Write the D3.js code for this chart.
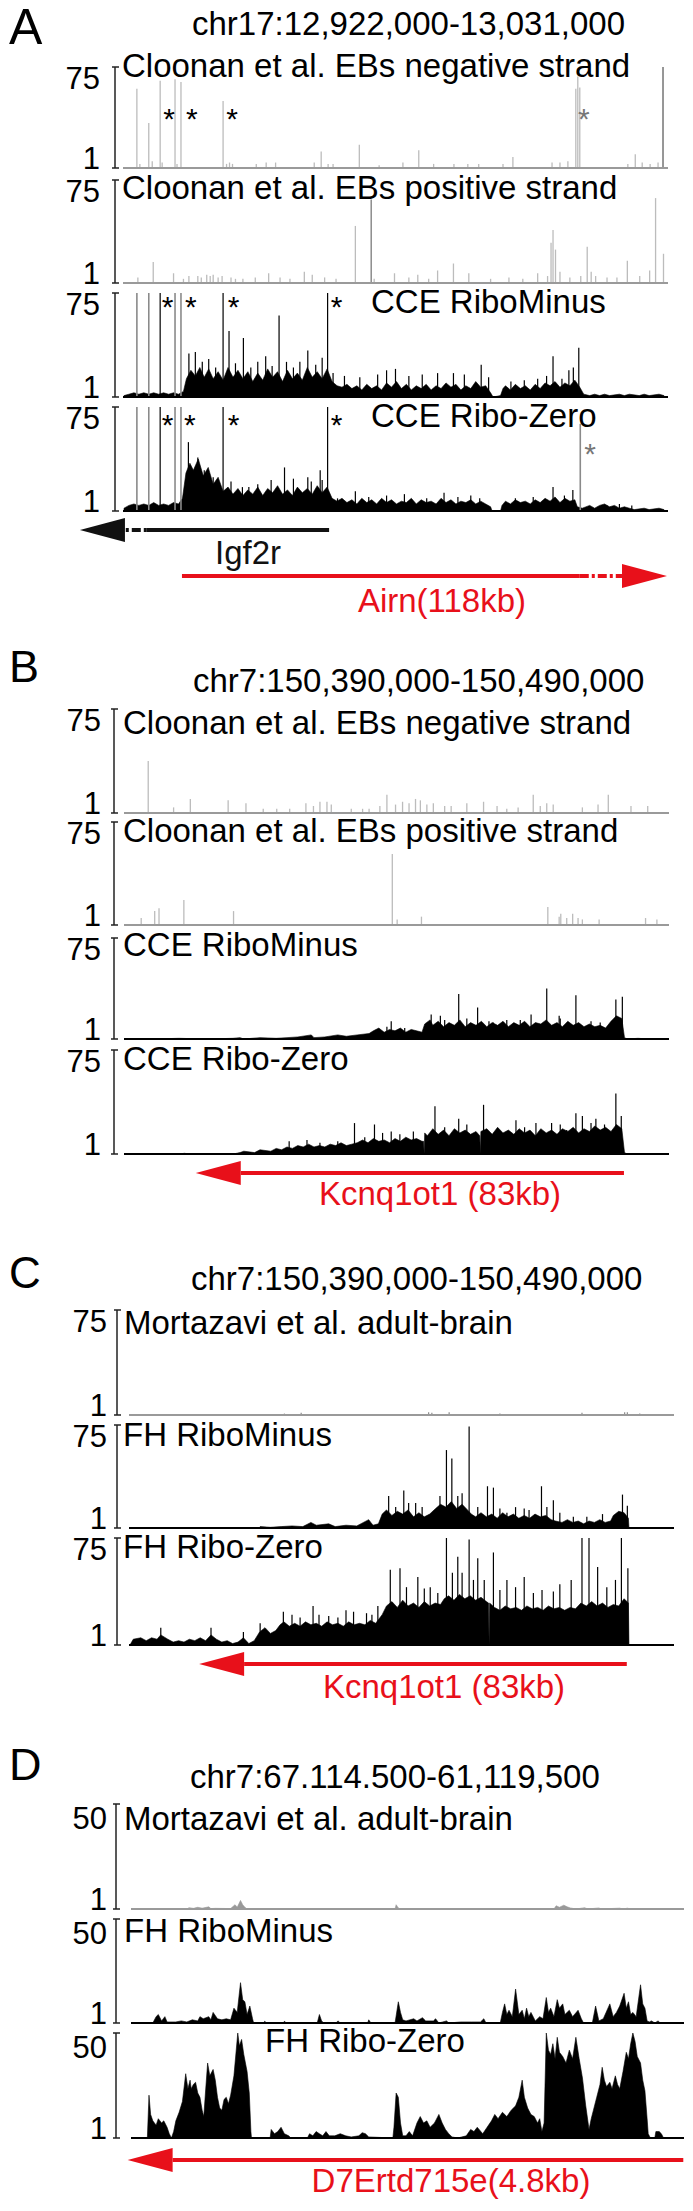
<!doctype html>
<html>
<head>
<meta charset="utf-8">
<title>Coverage tracks</title>
<script src="https://cdn.jsdelivr.net/npm/d3@7"></script>
<style>
body { margin: 0; background: #fff; }
text { font-family: "Liberation Sans", Arial, Helvetica, sans-serif; }
</style>
</head>
<body>
<svg width="693" height="2211"></svg>
<script>
// ---- data: positions in kb from window start, values are read coverage (1..max)
var panelLetters = ["A", "B", "C", "D"]
var panelTitles = ["chr17:12,922,000-13,031,000", "chr7:150,390,000-150,490,000",
                   "chr7:150,390,000-150,490,000", "chr7:67.114.500-61,119,500"]
var windowKb = [109, 100, 100, 5]
var maxTicks = [75, 75, 75, 50]

var labelsA = ["Cloonan et al. EBs negative strand", "Cloonan et al. EBs positive strand", "CCE RiboMinus", "CCE Ribo-Zero"]
var labelsB = ["Cloonan et al. EBs negative strand", "Cloonan et al. EBs positive strand", "CCE RiboMinus", "CCE Ribo-Zero"]
var labelsC = ["Mortazavi et al. adult-brain", "FH RiboMinus", "FH Ribo-Zero"]
var labelsD = ["Mortazavi et al. adult-brain", "FH RiboMinus", "FH Ribo-Zero"]

var a1Lines = [[2.6,59],[3.2,4],[5.0,34],[5.7,6],[7.3,65],[7.7,5],[10.3,66],[10.7,4],[11.5,64],[20.0,50],[20.7,4],
    [21.3,5],[21.9,4],[26.7,4],[28.7,5],[30.6,5],[38.4,5],[39.8,13],[41.2,4],[42.2,4],[47.5,18],[51.5,3],[56.3,5],
    [59.5,14],[62.5,4],[66.6,4],[69.4,4],[71.6,4],[76.5,4],[78.5,9],[86.4,5],[88.0,5],[89.6,6],[91.2,59],[91.6,68],
    [92.0,60],[101.7,4],[103.2,11],[104.6,5],[106.2,4],[107.8,5]]
var a1DarkLines = [[108.8,75]]
var a1Stars = [9.1, 13.7, 21.8]
var a1GrayStars = [92.8]

var a2Lines = [[2.8,5],[5.9,16],[10.0,8],[12.0,4],[13.1,6],[14.9,6],[15.6,5],[16.7,7],[17.4,6],[18.0,7],[19.0,5],
    [19.8,6],[21.6,5],[22.5,4],[24.0,4],[26.5,5],[29.2,8],[31.5,5],[33.5,4],[36.4,9],[38.0,7],[40.5,5],[42.8,4],
    [46.7,42],[50.5,4],[54.6,8],[57.5,5],[59.3,7],[61.5,4],[63.3,10],[66.5,15],[69.6,8],[74.0,4],[77.7,5],[80.5,4],
    [83.5,8],[85.5,6],[86.2,30],[86.6,39],[87.1,25],[88.0,9],[90.0,5],[92.2,6],[93.5,27],[94.3,9],[95.2,6],
    [97.5,5],[99.5,5],[101.6,17],[104.1,6],[106.1,10],[107.3,62],[108.9,22]]
var a2DarkLines = [[49.9,61]]

var a3Area = [[0,2],[1,3],[2,4],[3,3],[4,4],[5,3],[6,4],[7,3],[8,4],[9,3],[10,4],[11,3],[12,5],[12.6,14],[13.5,20],
    [14.4,16],[15.3,22],[16.2,15],[17.1,21],[18,14],[19,19],[20,13],[21,22],[22,15],[23,20],[24,14],[25,19],[26,12],
    [27,18],[28,13],[29,21],[30,15],[31,19],[32,12],[33,20],[34,14],[35,18],[36,13],[37,22],[38,15],[39,19],[40,14],
    [41,21],[42,12],[43,9],[44,8],[45,10],[46,7],[47,9],[48,6],[49,10],[50,7],[51,9],[52,6],[53,11],[54,8],[55,12],
    [56,7],[57,10],[58,6],[59,9],[60,7],[61,10],[62,6],[63,9],[64,7],[65,11],[66,8],[67,10],[68,6],[69,9],[70,7],
    [71,12],[72,8],[73,9],[74,4],[74.5,1],[76,2],[76.5,7],[77,9],[78,6],[79,10],[80,7],[81,9],[82,6],[83,10],[84,7],
    [85,11],[86,9],[87,12],[88,8],[89,11],[90,9],[91,13],[92,8],[92.8,3],[94,2],[95,3],[96,2],[97,3],[98,2],[100,3],
    [101,2],[102,3],[104,2],[105,3],[106,2],[108,3],[109,2]]
var a3Spikes = [[7.3,75],[20.0,75],[41.1,75],[13.1,32],[14.4,33],[15.8,26],[17.1,28],[18.5,22],[21.2,48],[22.5,25],
    [24.1,43],[25.6,22],[27.0,26],[28.6,30],[29.9,23],[31.3,59],[32.8,26],[34.2,22],[35.5,26],[37.1,34],[38.7,24],
    [40.0,29],[42.2,18],[44.5,16],[47.6,15],[51.2,17],[53.0,20],[54.8,21],[57.5,16],[60.2,17],[63.3,18],[66.5,18],
    [68.7,17],[72.1,24],[73.6,15],[78.1,12],[80.8,13],[83.5,14],[85.3,16],[86.6,30],[88.4,14],[89.8,20],[90.7,22],
    [91.8,36]]
var a3GraySpikes = [[2.6,75],[5.0,75],[10.3,75],[11.5,75]]
var a3Stars = [8.8, 13.5, 22.1, 42.9]

var a4Area = [[0,3],[1,5],[2,6],[3,5],[4,6],[5,5],[6,7],[7,5],[8,6],[9,5],[10,7],[11,6],[11.8,10],[12.5,28],[13.3,35],
    [14,30],[15,38],[16,26],[17,32],[18,20],[19,25],[20,15],[21,18],[22,13],[23,17],[24,12],[25,16],[26,13],[27,18],
    [28,12],[29,17],[30,14],[31,19],[32,13],[33,16],[34,12],[35,18],[36,14],[37,17],[38,13],[39,19],[40,14],[41,18],
    [42,10],[43,8],[44,10],[45,7],[46,9],[47,6],[48,10],[49,7],[50,9],[51,6],[52,10],[53,7],[54,9],[55,6],[56,8],
    [57,7],[58,10],[59,6],[60,9],[61,7],[62,8],[63,6],[64,10],[65,7],[66,9],[67,6],[68,8],[69,7],[70,9],[71,6],[72,8],
    [73,6],[74,4],[74.3,1],[76,1],[76.3,5],[77,8],[78,6],[79,9],[80,7],[81,8],[82,6],[83,9],[84,7],[85,10],[86,8],
    [87,11],[88,7],[89,10],[90,8],[91,9],[91.5,4],[92.5,3],[94,5],[95,3],[96,5],[97,6],[98,4],[99,5],[100,3],[101,4],
    [102,3],[103,2],[105,3],[106,2],[108,3],[109,2]]
var a4Spikes = [[7.3,75],[20.0,75],[41.1,75],[13.0,50],[14.9,39],[16.2,30],[18.0,25],[21.6,22],[23.9,18],[25.2,18],
    [27.0,20],[29.7,23],[32.4,32],[34.2,24],[37.1,25],[37.8,22],[39.6,30],[40.0,23],[43.1,10],[46.7,15],[49.4,11],
    [53.0,12],[56.6,13],[61.1,10],[64.6,14],[67.4,11],[70,12],[71.8,10],[79,10],[82.6,11],[86.6,18],[88.9,12],
    [90.6,16],[97.5,5],[100,6],[102.5,5]]
var a4GraySpikes = [[2.6,75],[5.0,75],[10.3,75],[11.5,75],[92.1,63]]
var a4Stars = [8.8, 13.3, 22.1, 42.9]
var a4GrayStars = [94.1]

var b1Lines = [[4.3,38],[9.0,5],[12.1,11],[19.1,10],[22.4,8],[25.6,4],[28.1,4],[30.5,4],[33.5,8],[34.9,6],[36.1,9],
    [37.4,9],[38.2,7],[41.9,4],[44,4],[45.2,4],[47.2,6],[48.5,14],[50.1,7],[51.4,9],[52.6,8],[53.8,11],[54.7,10],
    [55.9,7],[57.1,8],[59.2,6],[60.4,6],[63.3,8],[66.4,9],[68.9,6],[70.7,4],[72.8,5],[75.6,14],[76.9,6],[78.1,8],
    [79.3,7],[84.7,5],[87.6,7],[89.5,14],[93.7,6],[96.8,6]]
var b2Lines = [[3.0,6],[5.5,11],[6.3,13],[10.9,19],[20.1,11],[49.5,52],[50.4,5],[54.9,7],[78.3,14],[80.4,7],[80.7,9],
    [81.8,6],[82.9,9],[83.9,6],[84.7,5],[87.8,5],[96.4,6],[98.5,5]]

var b3Area = [[0,1],[5,1],[10,1.5],[15,1],[20,1.5],[21.3,2],[22,1],[25,2],[28,1.5],[30,2],[32,2.5],[34.5,4],[35,2],
    [37,2.5],[39.4,4],[41,3],[43,4],[45.2,5],[46,7],[47,9],[48,6],[49,8],[50,7],[51,9],[52,6],[53,8],[54,7],[55,6],
    [55.5,12],[56.5,15],[57,11],[58,14],[59,10],[60,13],[61,11],[62,15],[63,10],[64,13],[65,11],[66,14],[67,10],
    [68,13],[69,11],[70,14],[71,10],[72,13],[73,11],[74,14],[75,10],[76,13],[77,12],[78,15],[79,11],[80,13],[81,10],
    [82,14],[83,11],[84,13],[85,10],[86,12],[87,10],[88,11],[89,9],[90,14],[91,18],[92,16],[92.5,2],[93,1],[95,1.5],
    [97,1],[100,1]]
var b3Spikes = [[48.5,10],[49.3,14],[51.8,9],[56.7,19],[58.4,18],[59.2,15],[61.8,34],[63.3,16],[65.3,24],[67.4,14],
    [68.2,13],[70.7,15],[73.2,15],[75.2,19],[78.1,38],[80.4,18],[80.6,16],[83.5,33],[86.3,14],[88,13],[90.9,30],
    [92.1,32]]

var b4Area = [[0,1],[10,1],[11,1.5],[12,1],[20,1],[21.3,2],[22,3],[24,2],[25,4],[27,3],[28,5],[29,4],[30,6],[31,5],
    [32,7],[33,6],[34,8],[35,6],[36,7],[37,6],[38,8],[39,7],[40,9],[41,7],[42,8],[43,9],[44,11],[45,9],[46,12],[47,10],
    [48,11],[49,9],[50,12],[51,10],[52,13],[53,11],[54,12],[55,10],[55.3,10],[55.4,1],[55.5,16],[56,14],[57,19],
    [58,15],[59,18],[60,14],[61,19],[62,16],[63,18],[64,15],[65,17],[65.7,14],[65.8,1],[65.9,17],[67,19],[68,15],
    [69,20],[70,16],[71,18],[72,15],[73,19],[74,16],[75,18],[76,14],[77,19],[78,16],[79,18],[80,15],[81,19],[82,17],
    [83,20],[84,16],[85,19],[86,17],[87,21],[88,18],[89,20],[90,17],[91,22],[92,19],[92.5,2],[93,1],[100,1]]
var b4Spikes = [[30.4,10],[33.7,11],[36.1,9],[39.4,10],[42.5,23],[44.4,13],[46.2,22],[47.7,16],[49.3,17],[50.9,15],
    [53.4,17],[57.4,35],[59.2,20],[61.8,26],[63.3,22],[66.4,36],[69.1,19],[72.4,25],[74,20],[76.1,23],[79,23],
    [80.6,22],[81.8,18],[83.5,30],[84.7,28],[86.3,23],[87.2,26],[88.8,22],[90.9,44],[91.9,28]]

var c1Lines = [[28.6,2],[31.7,2.5],[55.3,3],[55.9,2.5],[59.1,3],[68.5,2],[83.7,2.5],[91.6,3],[92.1,3],[94.4,2]]

var c2Area = [[0,1],[4,1.3],[5,1],[10,1.3],[11,1],[24,1],[24.1,2],[26,1.5],[28,2],[30,2.5],[32,2],[33.5,5],[34.5,3],
    [36.8,4],[38,2],[40,3],[42,2.5],[44.2,7],[45,3],[46,4],[46.7,11],[47.5,14],[48.5,10],[49.5,13],[50.5,11],
    [51.5,14],[52.5,9],[53.5,12],[54.5,9],[55.5,11],[56.6,15],[57.5,18],[58.5,16],[59.5,20],[60.5,15],[61.5,18],
    [62.5,14],[63.2,11],[64,9],[65,12],[66,9],[67,11],[68,8],[69,12],[70,9],[71,11],[72,8],[73,10],[74,8],[75,11],
    [76,9],[77,10],[78,7],[78.8,6],[80,5],[81,7],[82,5],[83,6],[84,4],[85,6],[86,5],[87,7],[88,5],[89,6],[89.5,10],
    [90.5,13],[91.5,12],[92.3,8],[92.4,1],[100,1]]
var c2Spikes = [[47.9,24],[49.2,16],[50.7,28],[51.6,19],[52.9,19],[54.1,16],[57.4,24],[58.6,57],[59.6,51],[60.7,24],
    [61.5,26],[62.8,74],[64.4,16],[66.2,31],[67.3,30],[68.5,15],[69.8,12],[71.4,16],[73,15],[73.9,14],[76.2,31],
    [77.2,16],[78.4,21],[79.6,12],[82.1,9],[84.6,9],[87.5,11],[91.2,25],[92.1,17]]

var c3Area = [[0,1],[0.6,5],[2,6],[3,4],[4,6],[5,5],[5.7,8],[7,5],[8,3],[9,4],[10,3],[11,5],[12,4],[13,6],[14,4],
    [15,8],[16,5],[17,3],[18,4],[19,2],[20,3],[21,6],[22,2],[23,4],[24,10],[25,13],[26,9],[27,11],[27.8,15],[28.5,17],
    [29.5,14],[30.5,16],[31.5,14],[32.5,17],[33.5,15],[34.5,16],[35.5,14],[36.5,17],[37.5,15],[38.5,16],[39.5,14],
    [40.5,17],[41.5,15],[42.5,16],[43.5,15],[44.5,18],[45.5,16],[46.7,22],[47.5,28],[48.5,31],[49.5,27],[50.5,32],
    [51.5,28],[52.5,30],[53.5,27],[54.5,31],[55.5,28],[56.5,30],[57.5,29],[58.2,33],[59,35],[60,32],[61,36],[62,33],
    [63,35],[64,32],[65,34],[66,31],[66.4,30],[66.5,1],[66.6,30],[67.5,27],[68.5,25],[69.5,28],[70.5,26],[71.5,27],
    [72.5,25],[73.5,28],[74.5,26],[75.5,27],[76.5,25],[77.5,28],[78.5,26],[79.5,27],[80.5,25],[81.5,27],[82.5,26],
    [83.5,30],[84.5,28],[85.5,31],[86.5,28],[87.5,30],[88.5,27],[89.5,29],[90.5,28],[91.5,33],[92.3,30],[92.4,1],[100,1]]
var c3Spikes = [[5.7,13],[15,13],[21,10],[24.1,16],[28.4,24],[30,22],[31.5,20],[33.9,28],[35,22],[36.8,21],[38.5,20],
    [40,25],[41.4,24],[43.8,23],[44.8,22],[45.9,28],[48.2,53],[50,54],[51.2,41],[53.3,48],[54.5,40],[55.6,41],[57,37],
    [58.6,75],[59.7,51],[60.7,62],[61.5,51],[62.8,74],[63.6,46],[64.4,61],[65.6,46],[67.3,65],[68.5,39],[69.8,46],
    [71.4,41],[73,48],[74.7,37],[76.3,39],[78.4,38],[79.6,43],[81.7,46],[83.7,75],[85,75],[86.6,55],[88.3,41],
    [89.9,46],[91,75],[92.2,54]]

var d1Area = [[0,1],[0.5,1],[0.52,1.6],[0.56,1.3],[0.6,1.8],[0.64,1.4],[0.7,2],[0.72,1.2],[0.76,1.3],[0.9,1.2],
    [0.94,3],[0.96,1.8],[0.99,5],[1.01,3],[1.03,1.8],[1.05,1],[2.4,1],[2.41,3],[2.43,1.5],[2.45,1],[3.85,1],[3.87,2.5],
    [3.9,1.8],[3.94,2.8],[3.97,2],[4.0,1.5],[4.05,1],[4.13,1.6],[4.16,1],[4.26,1.5],[4.28,1],[4.45,1.4],[4.48,1],
    [4.52,1.4],[4.55,1],[5,1]]

var d2Area = [[0,1],[0.19,1],[0.22,4],[0.24,5],[0.27,2],[0.3,4],[0.32,1.5],[0.4,1.5],[0.45,2],[0.5,1.5],[0.55,2.5],
    [0.6,2],[0.62,4],[0.65,3],[0.7,4],[0.72,2.5],[0.74,6],[0.78,3],[0.82,2.5],[0.86,3],[0.9,2.5],[0.93,8],[0.96,6],
    [0.99,20],[1.01,12],[1.03,11],[1.05,5],[1.075,9],[1.1,3],[1.11,1],[1.2,1],[1.21,1.8],[1.23,1],[1.38,1],[1.39,1.8],
    [1.41,1],[1.69,1],[1.71,5],[1.73,2],[1.75,1],[1.86,1],[1.88,2],[1.9,1],[2.15,1],[2.16,2.5],[2.18,1],[2.4,1],
    [2.43,11],[2.45,6],[2.47,2.5],[2.5,2],[2.57,3],[2.6,2],[2.65,3.5],[2.68,2],[2.75,2],[2.77,3],[2.8,1],[2.87,2],
    [2.89,1],[3.0,1.5],[3.1,1.5],[3.18,1.5],[3.21,3],[3.23,1],[3.36,1],[3.38,6],[3.4,10],[3.42,5],[3.44,7],[3.47,4],
    [3.5,17],[3.53,5],[3.56,7],[3.58,3],[3.6,8],[3.62,4],[3.64,6],[3.68,2],[3.72,4],[3.75,3],[3.78,13],[3.8,6],[3.82,8],
    [3.85,4],[3.88,12],[3.9,8],[3.93,10],[3.95,5],[3.99,7],[4.02,4],[4.07,7],[4.1,3],[4.12,1],[4.2,1],[4.23,9],
    [4.26,2],[4.3,3],[4.36,10],[4.39,4],[4.42,6],[4.45,9],[4.49,15],[4.51,8],[4.53,11],[4.55,5],[4.57,6],[4.6,4],
    [4.64,19],[4.66,10],[4.68,8],[4.7,2],[4.72,1.5],[4.74,2],[4.77,1],[4.8,2],[4.82,1],[5,1]]

var d3Area = [[0,1],[0.14,1],[0.155,21],[0.17,12],[0.19,9],[0.22,7],[0.24,10],[0.27,8],[0.29,9],[0.32,6],[0.34,3],
    [0.36,1],[0.38,4],[0.4,9],[0.43,13],[0.46,18],[0.49,31],[0.51,24],[0.53,28],[0.54,24],[0.56,26],[0.58,27],[0.6,22],
    [0.62,20],[0.64,14],[0.655,11],[0.67,22],[0.69,36],[0.71,30],[0.74,33],[0.76,28],[0.78,20],[0.8,15],[0.82,14],
    [0.84,19],[0.86,20],[0.88,17],[0.9,21],[0.93,30],[0.965,50],[0.98,44],[1.0,47],[1.02,40],[1.05,32],[1.07,22],
    [1.085,4],[1.09,1],[1.26,1],[1.27,5],[1.3,3],[1.33,4],[1.36,6],[1.39,3],[1.43,2],[1.45,1],[1.6,1],[1.62,3],
    [1.65,2],[1.68,4],[1.71,3],[1.74,2],[1.77,4],[1.8,2],[1.85,2],[1.9,3],[1.95,2],[2.0,1.5],[2.07,2],[2.1,3.5],
    [2.13,3],[2.16,1.5],[2.38,1],[2.39,6],[2.41,22],[2.43,20],[2.45,8],[2.47,2],[2.5,2],[2.53,4],[2.56,2],[2.6,8],
    [2.63,11],[2.66,8],[2.69,9],[2.72,6],[2.76,8],[2.8,12],[2.83,8],[2.86,5],[2.89,3],[2.92,1.5],[2.97,1],[3.05,2],
    [3.09,5],[3.12,4],[3.15,6],[3.2,3],[3.24,6],[3.28,9],[3.31,12],[3.34,10],[3.38,13],[3.42,11],[3.46,14],[3.5,16],
    [3.53,20],[3.56,28],[3.58,20],[3.61,15],[3.64,12],[3.67,11],[3.7,8],[3.72,10],[3.74,4],[3.76,8],[3.78,51],
    [3.8,42],[3.82,40],[3.84,45],[3.86,38],[3.88,48],[3.9,41],[3.93,39],[3.96,36],[3.99,42],[4.02,38],[4.05,48],
    [4.08,38],[4.11,29],[4.14,16],[4.17,5],[4.19,10],[4.21,14],[4.24,20],[4.27,26],[4.29,34],[4.31,28],[4.33,25],
    [4.36,27],[4.38,24],[4.41,30],[4.43,26],[4.45,24],[4.48,32],[4.51,41],[4.53,38],[4.55,45],[4.57,50],[4.59,46],
    [4.61,39],[4.64,36],[4.66,28],[4.68,23],[4.7,10],[4.71,3],[4.73,1],[4.77,1],[4.78,4],[4.81,4],[4.83,3],[4.85,1],[5,1]]

// genes: [label, tail kb, tip kb, dashed-from kb (or null)]
var genesA = [["Igf2r", 41.4, -8.9, 4.6], ["Airn(118kb)", 11.7, 109.6, 92.0]]
var genesB = [["Kcnq1ot1 (83kb)", 92.4, 13.1, null]]
var genesC = [["Kcnq1ot1 (83kb)", 92.0, 12.8, null]]
var genesD = [["D7Ertd715e(4.8kb)", 5.03, -0.04, null]]

// ---- drawing
var svg = d3.select("svg")
var black = "#000"
var lightGray = "#bcbcbc"
var darkGray = "#8c8c8c"
var red = "#e8101a"

svg.append("rect").attr("width", 693).attr("height", 2211).attr("fill", "#fff")

function addText(x, y, str, size, anchor, color) {
    return svg.append("text")
        .attr("x", x).attr("y", y)
        .attr("text-anchor", anchor || "start")
        .attr("font-size", size + "px")
        .attr("fill", color || black)
        .text(str)
}

var panels = [
    {x0: 124, x1: 664, axisX: 115, tickX: 100, letterY: 44, letterSize: 50, titleX: 192, titleY: 35},
    {x0: 125, x1: 665, axisX: 114, tickX: 101, letterY: 682, letterSize: 45, titleX: 193, titleY: 692},
    {x0: 130, x1: 670, axisX: 117, tickX: 107, letterY: 1288, letterSize: 44, titleX: 191, titleY: 1290},
    {x0: 132, x1: 680, axisX: 116, tickX: 107, letterY: 1780, letterSize: 45, titleX: 190, titleY: 1788}
]
panels.forEach(function (p, i) {
    p.kb = windowKb[i]
    p.max = maxTicks[i]
    addText(9, p.letterY, panelLetters[i], p.letterSize)
    addText(p.titleX, p.titleY, panelTitles[i], 33)
})

function makeTrack(p, top, bottom, label, labelX, labelY, gray) {
    var t = {p: p, top: top, bottom: bottom, gray: gray}
    t.x = d3.scaleLinear().domain([0, p.kb]).range([p.x0, p.x1])
    t.y = d3.scaleLinear().domain([1, p.max]).range([bottom, top]).clamp(true)
    t.data = svg.append("g")
    var over = svg.append("g")
    over.append("line")
        .attr("x1", p.x0 - 1).attr("x2", p.x1 + 4)
        .attr("y1", bottom).attr("y2", bottom)
        .attr("stroke", gray ? "#9a9a9a" : black).attr("stroke-width", 2)
    over.append("line")
        .attr("x1", p.axisX).attr("x2", p.axisX)
        .attr("y1", top).attr("y2", bottom)
        .attr("stroke", "#222").attr("stroke-width", 1.5)
    over.selectAll(null).data([top, bottom]).enter().append("line")
        .attr("x1", p.axisX - 3).attr("x2", p.axisX + 4)
        .attr("y1", function (d) { return d; }).attr("y2", function (d) { return d; })
        .attr("stroke", "#222").attr("stroke-width", 1.5)
    over.append("text")
        .attr("x", p.tickX).attr("y", top + (p.max === 50 ? 25 : 22))
        .attr("text-anchor", "end").attr("font-size", "31px")
        .text(p.max)
    over.append("text")
        .attr("x", p.tickX).attr("y", bottom + 1)
        .attr("text-anchor", "end").attr("font-size", "31px")
        .text("1")
    over.append("text")
        .attr("x", labelX).attr("y", labelY)
        .attr("font-size", "33px")
        .text(label)
    return t
}

function drawLines(t, data, color, width) {
    t.data.selectAll(null).data(data).enter().append("line")
        .attr("x1", function (d) { return t.x(d[0]); })
        .attr("x2", function (d) { return t.x(d[0]); })
        .attr("y1", t.bottom)
        .attr("y2", function (d) { return t.y(d[1]); })
        .attr("stroke", color).attr("stroke-width", width)
}

function drawArea(t, data, color) {
    var area = d3.area()
        .x(function (d) { return t.x(d[0]); })
        .y0(t.bottom)
        .y1(function (d) { return t.y(d[1]); })
    t.data.append("path").datum(data)
        .attr("d", area)
        .attr("fill", color)
        .attr("stroke", color).attr("stroke-width", 0.6)
}

function drawStars(t, data, yc, color) {
    t.data.selectAll(null).data(data).enter().append("text")
        .attr("x", function (d) { return t.x(d); })
        .attr("y", yc + 17)
        .attr("text-anchor", "middle").attr("font-size", "30px")
        .attr("fill", color)
        .text("*")
}

function geneArrow(p, gene, y, color, labelX, labelY, labelColor) {
    var x = d3.scaleLinear().domain([0, p.kb]).range([p.x0, p.x1])
    var tail = x(gene[1]), tip = x(gene[2])
    var dir = tip > tail ? 1 : -1
    var base = tip - dir * 45
    var solidEnd = gene[3] === null ? base : x(gene[3])
    svg.append("line")
        .attr("x1", tail).attr("x2", solidEnd).attr("y1", y).attr("y2", y)
        .attr("stroke", color).attr("stroke-width", 4)
    if (gene[3] !== null) {
        svg.append("line")
            .attr("x1", solidEnd).attr("x2", base).attr("y1", y).attr("y2", y)
            .attr("stroke", color).attr("stroke-width", 4)
            .attr("stroke-dasharray", dir > 0 ? "9,3,3,3" : "3,3,9,3")
    }
    svg.append("path")
        .attr("d", "M" + tip + "," + y + "L" + base + "," + (y - 12) + "L" + base + "," + (y + 12) + "Z")
        .attr("fill", color)
    addText(labelX, labelY, gene[0], 33, "middle", labelColor)
}

// panel A
var pA = panels[0]
var tA1 = makeTrack(pA, 67, 168, labelsA[0], 122, 77, true)
drawLines(tA1, a1Lines, lightGray, 1.3)
drawLines(tA1, a1DarkLines, darkGray, 1.8)
drawStars(tA1, a1Stars, 112, black)
drawStars(tA1, a1GrayStars, 112, "#777")

var tA2 = makeTrack(pA, 180, 283, labelsA[1], 122, 199, true)
drawLines(tA2, a2Lines, lightGray, 1.3)
drawLines(tA2, a2DarkLines, darkGray, 1.5)

var tA3 = makeTrack(pA, 293, 397, labelsA[2], 371, 313, false)
drawArea(tA3, a3Area, black)
drawLines(tA3, a3GraySpikes, "#8a8a8a", 1.6)
drawLines(tA3, a3Spikes, black, 1.2)
drawStars(tA3, a3Stars, 300, black)

var tA4 = makeTrack(pA, 407, 511, labelsA[3], 371, 427, false)
drawArea(tA4, a4Area, black)
drawLines(tA4, a4GraySpikes, "#8a8a8a", 1.6)
drawLines(tA4, a4Spikes, black, 1.2)
drawStars(tA4, a4Stars, 418, black)
drawStars(tA4, a4GrayStars, 447, "#777")

geneArrow(pA, genesA[0], 530, "#111", 248, 564, "#111")
geneArrow(pA, genesA[1], 576, red, 442, 612, red)

// panel B
var pB = panels[1]
var tB1 = makeTrack(pB, 709, 813, labelsB[0], 123, 734, true)
drawLines(tB1, b1Lines, lightGray, 1.3)
var tB2 = makeTrack(pB, 822, 925, labelsB[1], 123, 842, true)
drawLines(tB2, b2Lines, lightGray, 1.3)
var tB3 = makeTrack(pB, 938, 1039, labelsB[2], 123, 956, false)
drawArea(tB3, b3Area, black)
drawLines(tB3, b3Spikes, black, 1.2)
var tB4 = makeTrack(pB, 1050, 1154, labelsB[3], 123, 1070, false)
drawArea(tB4, b4Area, black)
drawLines(tB4, b4Spikes, black, 1.2)
geneArrow(pB, genesB[0], 1173, red, 440, 1205, red)

// panel C
var pC = panels[2]
var tC1 = makeTrack(pC, 1310, 1415, labelsC[0], 124, 1334, true)
drawLines(tC1, c1Lines, darkGray, 1.2)
var tC2 = makeTrack(pC, 1425, 1528, labelsC[1], 123, 1446, false)
drawArea(tC2, c2Area, black)
drawLines(tC2, c2Spikes, black, 1.2)
var tC3 = makeTrack(pC, 1538, 1645, labelsC[2], 123, 1558, false)
drawArea(tC3, c3Area, black)
drawLines(tC3, c3Spikes, black, 1.2)
geneArrow(pC, genesC[0], 1664, red, 444, 1698, red)

// panel D
var pD = panels[3]
var tD1 = makeTrack(pD, 1804, 1909, labelsD[0], 124, 1830, true)
drawArea(tD1, d1Area, "#999")
var tD2 = makeTrack(pD, 1919, 2023, labelsD[1], 124, 1942, false)
drawArea(tD2, d2Area, black)
var tD3 = makeTrack(pD, 2033, 2138, labelsD[2], 265, 2052, false)
drawArea(tD3, d3Area, black)
geneArrow(pD, genesD[0], 2160, red, 451, 2192, red)
</script>
</body>
</html>
